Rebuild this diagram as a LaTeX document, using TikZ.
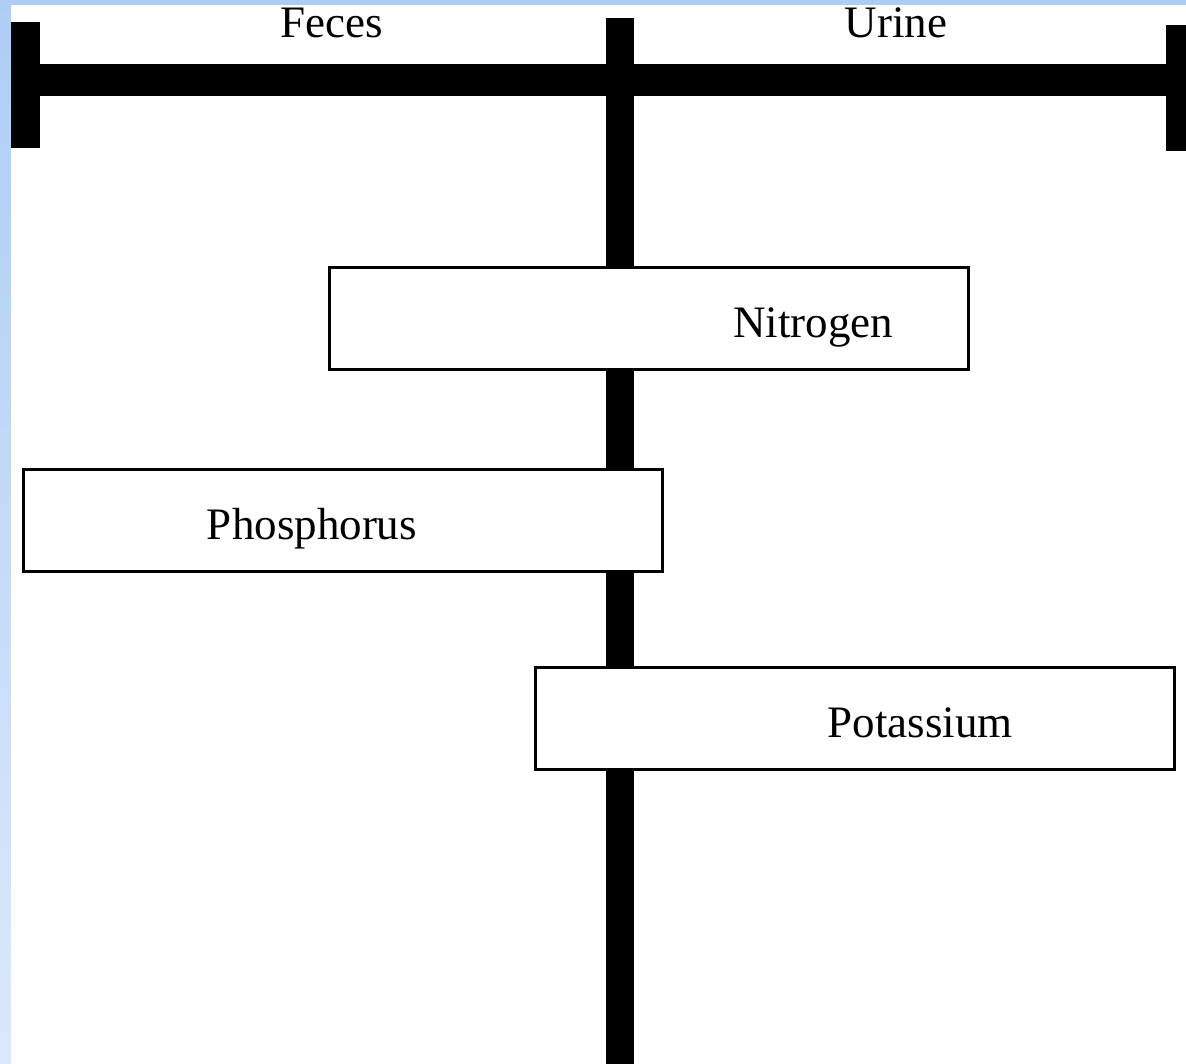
\documentclass[tikz,border=0pt]{standalone}
\usepackage{fontspec}
\setmainfont{Liberation Serif}
\usetikzlibrary{positioning}
\definecolor{frametop}{HTML}{AECDF5}
\definecolor{framebot}{HTML}{DCE8FA}
\tikzset{
bar/.style={line width=30pt,black},
capbar/.style={line width=29pt,black},
nutrient/.style={draw,line width=3pt,fill=white,inner sep=0pt,minimum width=639pt,minimum height=102pt},
word/.style={font=\fontsize{45}{54}\selectfont,inner sep=0pt,anchor=base}
}
\begin{document}
\begin{tikzpicture}[x=1pt,y=-1pt]
\useasboundingbox (0,0) rectangle (1186,1064);
% frame
\shade[top color=frametop,bottom color=framebot] (0,0) rectangle (1186,1064);
\fill[white] (11,5) rectangle (1186,1064);
% bars
\coordinate (lend) at (25.5,80);
\coordinate (rend) at (1176,80);
\coordinate (stemtop) at (620,18);
\coordinate (stembot) at (620,1064);
\draw[line width=32pt] (lend) -- (rend);
\draw[capbar] (25.5,22) -- (25.5,148);
\draw[line width=20pt] (1176,25) -- (1176,151);
\draw[line width=28pt] (stemtop) -- (stembot);
% labels on top
\node[word] (feces) at (332,38) {Feces};
\node[word] (urine) at (896,38) {Urine};
% boxes
\node[nutrient] (nbox) at (649,318.5) {};
\node[word] (ntext) at ([xshift=164pt,yshift=-19pt]nbox.center) {Nitrogen};
\node[nutrient] (phbox) at (343,520.5) {};
\node[word] (phtext) at ([xshift=-31pt,yshift=-19pt]phbox.center) {Phosphorus};
\node[nutrient] (kbox) at (855,718.5) {};
\node[word] (ktext) at ([xshift=65pt,yshift=-19pt]kbox.center) {Potassium};
\end{tikzpicture}
\end{document}
